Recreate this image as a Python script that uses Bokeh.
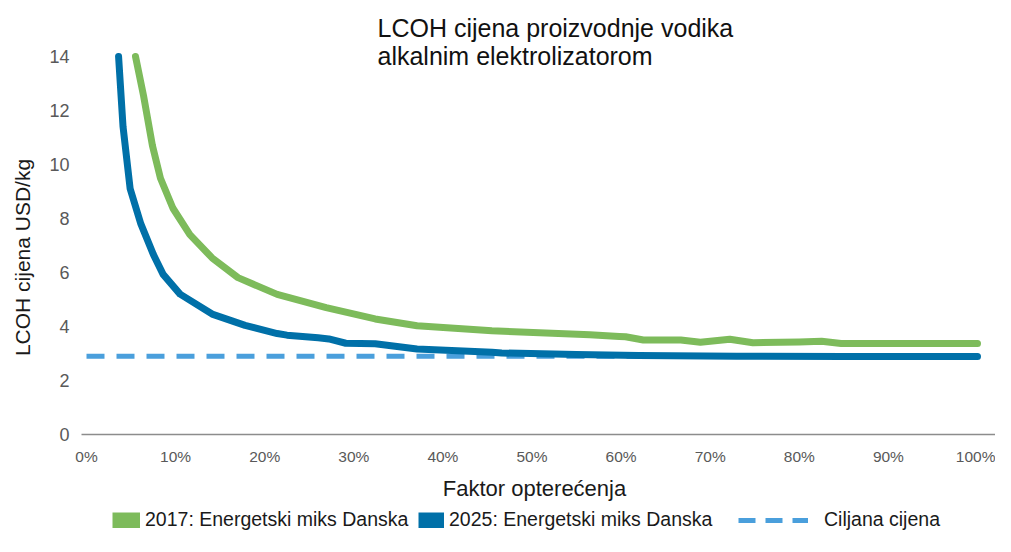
import math
from bokeh.plotting import figure
from bokeh.models import Range1d, NumeralTickFormatter, FixedTicker, Label, Legend, LegendItem
from bokeh.embed import file_html
from bokeh.resources import INLINE

# ---- data ----
blue_x = [0.036, 0.041, 0.049, 0.061, 0.075, 0.086, 0.105, 0.141, 0.178, 0.214, 0.225,
          0.260, 0.272, 0.291, 0.324, 0.371, 0.455, 0.466, 0.550, 0.620, 0.730, 0.850, 1.0]
blue_y = [14.0, 11.4, 9.1, 7.8, 6.67, 5.93, 5.2, 4.46, 4.04, 3.74, 3.68,
          3.58, 3.54, 3.38, 3.36, 3.17, 3.05, 3.02, 2.96, 2.93, 2.90, 2.89, 2.89]

green_x = [0.055, 0.064, 0.074, 0.083, 0.097, 0.116, 0.141, 0.170, 0.214, 0.269, 0.324,
           0.371, 0.455, 0.565, 0.598, 0.605, 0.625, 0.667, 0.689, 0.722, 0.748, 0.800,
           0.825, 0.847, 1.0]
green_y = [14.0, 12.55, 10.7, 9.49, 8.38, 7.4, 6.54, 5.81, 5.19, 4.7, 4.28,
           4.03, 3.84, 3.69, 3.63, 3.62, 3.50, 3.50, 3.42, 3.53, 3.40, 3.43,
           3.45, 3.37, 3.37]

target_x = [0.0, 1.0]
target_y = [2.9, 2.9]

series_names = ["2017: Energetski miks Danska", "2025: Energetski miks Danska", "Ciljana cijena"]
x_ticks = [0.0, 0.1, 0.2, 0.3, 0.4, 0.5, 0.6, 0.7, 0.8, 0.9, 1.0]
y_ticks = [0, 2, 4, 6, 8, 10, 12, 14]
title_lines = ["LCOH cijena proizvodnje vodika", "alkalnim elektrolizatorom"]
x_label = "Faktor opterećenja"
y_label = "LCOH cijena USD/kg"

GREEN = "#7dbb5b"
BLUE = "#0070a8"
DASH = "#4a9fdc"
FONT = "Liberation Sans"

W, H = 995, 536
PX0, PXPCT = 86.0, 8.91      # pixel of 0 % and pixels per percent
PY0, PYU = 434.0, 27.0       # pixel of y=0 and pixels per unit

def dx(px):
    return (px - PX0) / PXPCT / 100.0

def dy(py):
    return (PY0 - py) / PYU

p = figure(width=W, height=H, output_backend="svg", toolbar_location=None,
           x_range=Range1d(dx(0), dx(W)), y_range=Range1d(dy(H), dy(0)),
           min_border=0, min_border_left=0, min_border_right=0,
           min_border_top=0, min_border_bottom=0)
p.grid.visible = False
p.outline_line_color = None
p.background_fill_color = "white"

# axes (drawn inside the frame at fixed locations)
p.xaxis.fixed_location = 0
p.xaxis.bounds = (dx(81), dx(1010))
p.xaxis.ticker = FixedTicker(ticks=x_ticks)
p.xaxis.formatter = NumeralTickFormatter(format="0%")
p.xaxis.axis_line_color = "#8c8c8c"
p.xaxis.axis_line_width = 1.5
p.xaxis.major_tick_line_color = None
p.xaxis.minor_tick_line_color = None
p.xaxis.major_tick_out = 0
p.xaxis.major_tick_in = 0
p.xaxis.major_label_text_font = FONT
p.xaxis.major_label_text_font_size = "15.5px"
p.xaxis.major_label_text_color = "#595959"
p.xaxis.major_label_standoff = 13

p.yaxis.fixed_location = dx(81)
p.yaxis.ticker = FixedTicker(ticks=y_ticks)
p.yaxis.axis_line_color = None
p.yaxis.major_tick_line_color = None
p.yaxis.minor_tick_line_color = None
p.yaxis.major_tick_out = 0
p.yaxis.major_tick_in = 0
p.yaxis.major_label_text_font = FONT
p.yaxis.major_label_text_font_size = "18px"
p.yaxis.major_label_text_color = "#595959"
p.yaxis.major_label_standoff = 12

# lines
p.line(target_x, target_y, line_color=DASH, line_width=5, line_dash="18 12")
p.line(green_x, green_y, line_color=GREEN, line_width=7, line_cap="round", line_join="round")
p.line(blue_x, blue_y, line_color=BLUE, line_width=7, line_cap="round", line_join="round")

# legend swatches (renderers with a single NaN point, used only for legend glyphs)
nan = float("nan")
r_g = p.line([nan], [nan], line_color=GREEN, line_width=16)
r_b = p.line([nan], [nan], line_color=BLUE, line_width=16)
r_t = p.line([nan], [nan], line_color=DASH, line_width=5, line_dash="17 10")

def make_legend(name, r, xpx, gw, standoff):
    lg = Legend(items=[LegendItem(label=name, renderers=[r], index=0)], location=(xpx, 5),
                glyph_width=gw, glyph_height=16, label_standoff=standoff,
                label_text_font=FONT, label_text_font_size="19.5px", label_text_color="#1a1a1a",
                padding=0, margin=0, border_line_color=None, background_fill_alpha=0,
                label_height=20)
    p.add_layout(lg, "center")

make_legend(series_names[0], r_g, 112, 28, 5)
make_legend(series_names[1], r_b, 418, 26, 5)
make_legend(series_names[2], r_t, 738, 70, 16)

# title
for i, t in enumerate(title_lines):
    p.add_layout(Label(x=dx(377), y=dy(27 + 28 * i), text=t, text_font=FONT,
                       text_font_size="25px", text_color="#111111",
                       text_align="left", text_baseline="middle"))

# axis titles
p.add_layout(Label(x=dx(534), y=dy(488), text=x_label, text_font=FONT,
                   text_font_size="22px", text_color="#1a1a1a",
                   text_align="center", text_baseline="middle"))
p.add_layout(Label(x=dx(22), y=dy(257), text=y_label, angle=math.pi / 2,
                   text_font=FONT, text_font_size="21px", text_color="#1a1a1a",
                   text_align="center", text_baseline="middle"))

open("out.html", "w").write(file_html(p, INLINE))
